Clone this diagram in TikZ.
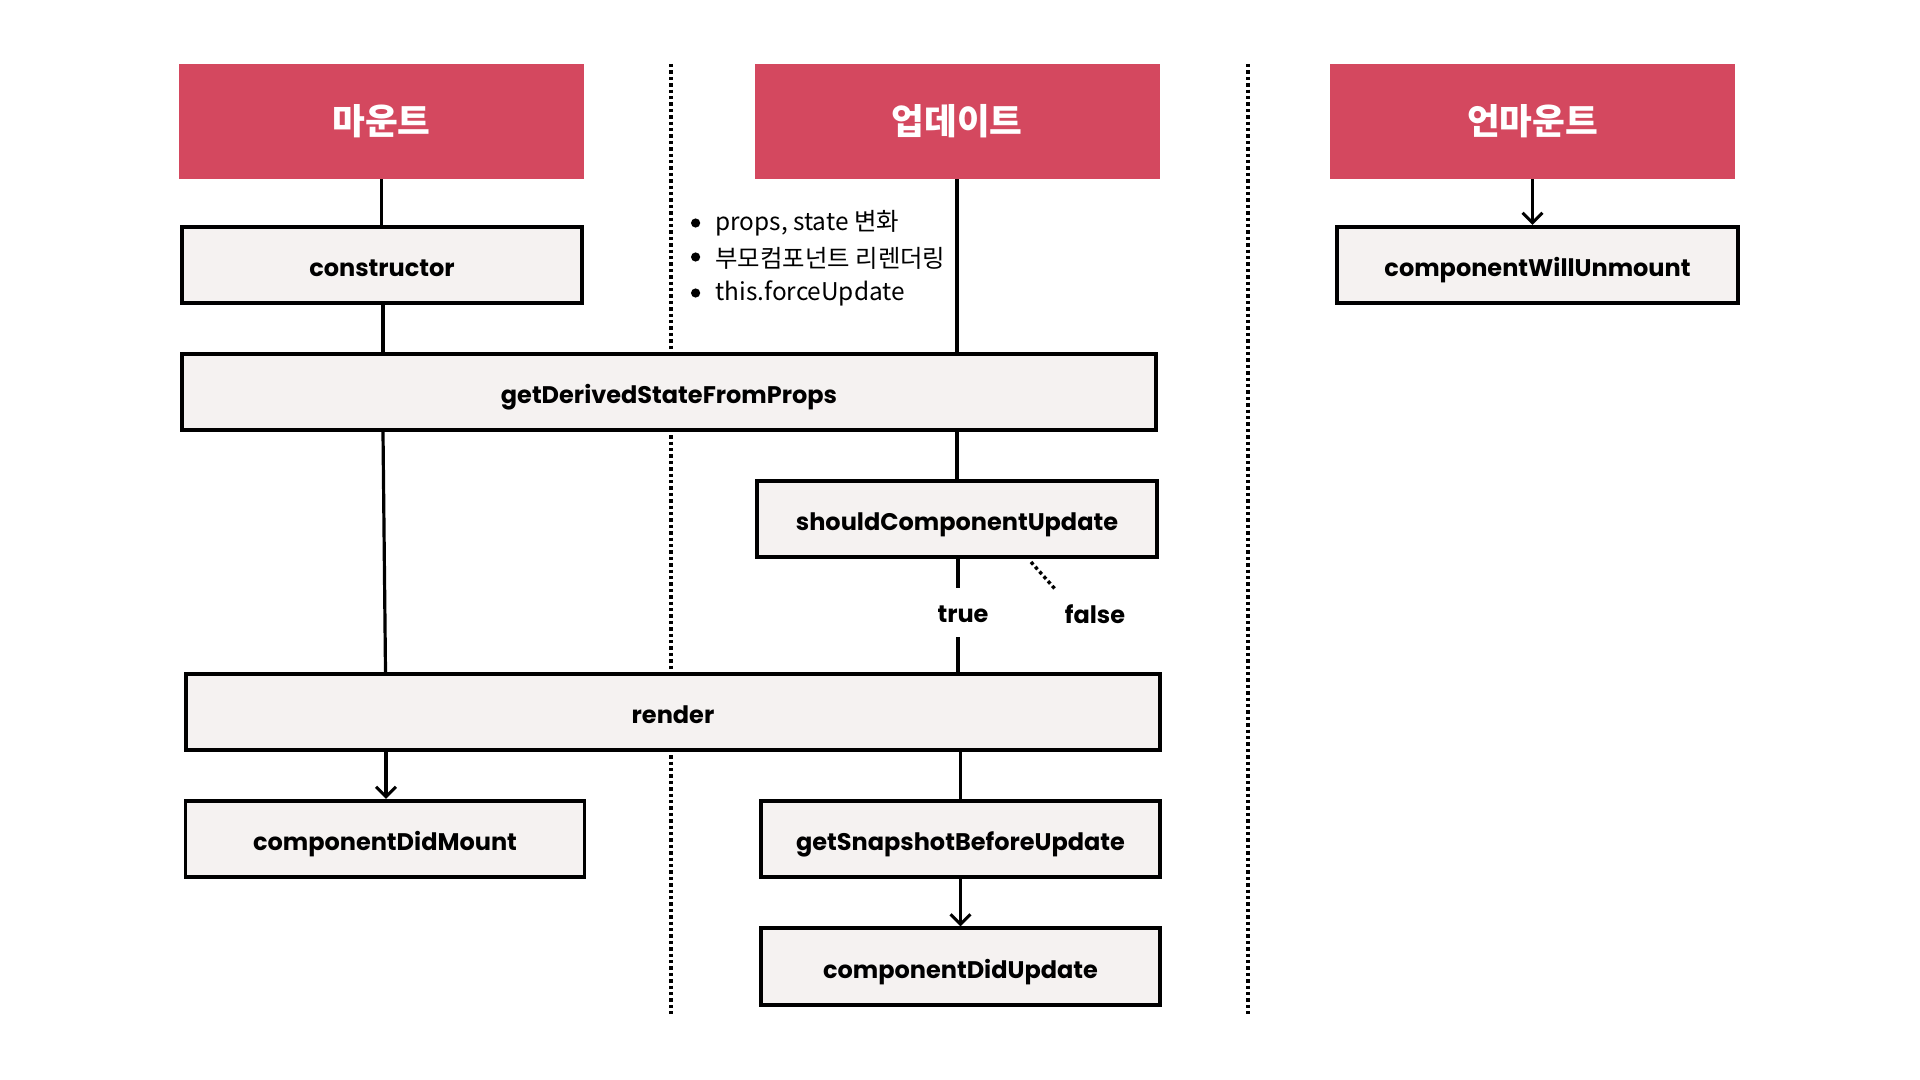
\documentclass[tikz,border=0pt]{standalone}
\usepackage{fontspec}
\setmainfont{Poppins}
\newfontfamily\kr{Noto Sans CJK KR}
\usetikzlibrary{arrows.meta}
\definecolor{hdr}{HTML}{D4485F}
\definecolor{boxfill}{HTML}{F5F2F1}
\tikzset{
  hdrbox/.style={fill=hdr, draw=none, minimum width=202.5pt, minimum height=57.5pt, text=white, font=\kr\bfseries\fontsize{17.8}{19}\selectfont, inner sep=0pt},
  lcbox/.style={fill=boxfill, draw=black, line width=1.9pt, minimum height=38.2pt, inner sep=0pt, text height=11.5pt, text depth=0pt, font=\bfseries\fontsize{12}{14}\selectfont},
  conn/.style={line width=1.6pt, draw=black},
  arr/.style={conn, -{Straight Barb[length=5pt,width=10pt,line width=1.5pt]}},
  sep/.style={line width=1.7pt, dash pattern=on 1.7pt off 1.5pt},
  lbl/.style={font=\bfseries\fontsize{12}{14}\selectfont, inner sep=0pt},
  bul/.style={font=\kr\fontsize{12.2}{14}\selectfont, anchor=west, inner sep=0pt},
  dot/.style={circle, fill=black, minimum size=4.6pt, inner sep=0pt}
}
\begin{document}
\begin{tikzpicture}[x=1pt,y=-1pt]
\useasboundingbox[fill=white] (0,0) rectangle (960,540);
% separators
\coordinate (s1a) at (335.5,32); \coordinate (s1b) at (335.5,507);
\coordinate (s2a) at (624,32); \coordinate (s2b) at (624,507);
\draw[sep] (s1a) -- (s1b);
\draw[sep] (s2a) -- (s2b);
% headers
\node[hdrbox] (hMount) at (190.75,60.75) {마운트};
\node[hdrbox] (hUpdate) at (478.5,60.75) {업데이트};
\node[hdrbox] (hUnmount) at (766.25,60.75) {언마운트};
% boxes
\node[lcbox, minimum width=200.3pt] (ctor) at (191,132.5) {constructor};
\node[lcbox, minimum width=487.3pt] (gdsfp) at (334.5,196) {getDerivedStateFromProps};
\node[lcbox, minimum width=200.3pt] (scu) at (478.5,259.5) {shouldComponentUpdate};
\node[lcbox, minimum width=487.3pt] (render) at (336.5,356) {render};
\node[lcbox, minimum width=199.5pt] (cdm) at (192.5,419.5) {componentDidMount};
\node[lcbox, minimum width=199.5pt] (gsbu) at (480.25,419.5) {getSnapshotBeforeUpdate};
\node[lcbox, minimum width=199.5pt] (cdu) at (480.25,483.25) {componentDidUpdate};
\node[lcbox, minimum width=200.3pt] (cwu) at (768.75,132.5) {componentWillUnmount};
% bullets
\node[dot] (d1) at (347.8,111.5) {};
\node[dot] (d2) at (347.8,128.5) {};
\node[dot] (d3) at (347.8,146.5) {};
\node[bul] (b1) at (357.5,111.5) {props, state 변화};
\node[bul] (b2) at (357.5,129) {부모컴포넌트 리렌더링};
\node[bul] (b3) at (357.5,146.5) {this.forceUpdate};
% mount connectors
\draw[conn] (hMount.south) -- (hMount.south |- ctor.north);
\draw[conn] ([xshift=0.75pt]hMount.south |- ctor.south) -- ([xshift=0.75pt]hMount.south |- gdsfp.north);
\draw[conn] ([xshift=0.75pt]hMount.south |- gdsfp.south) -- ([xshift=0.25pt]cdm.north |- render.north);
\draw[arr] ([xshift=0.5pt]cdm.north |- render.south) -- ([xshift=0.5pt]cdm.north);
% update connectors
\draw[conn] (hUpdate.south) -- (hUpdate.south |- gdsfp.north);
\draw[conn] (hUpdate.south |- gdsfp.south) -- (hUpdate.south |- scu.north);
\coordinate (t1) at (479,294);
\coordinate (t2) at (479,318.5);
\node[lbl] (true) at (481.5,307) {true};
\node[lbl] (false) at (547.5,307) {false};
\coordinate (f1) at (515.5,281);
\coordinate (f2) at (527.5,294.5);
\draw[conn] (scu.south -| t1) -- (t1);
\draw[conn] (t2) -- (t2 |- render.north);
\draw[line width=1.7pt, dash pattern=on 1.7pt off 1.5pt] (f1) -- (f2);
\draw[conn] (gsbu.north |- render.south) -- (gsbu.north);
\draw[arr] (gsbu.south) -- (cdu.north);
% unmount
\draw[arr] (hUnmount.south) -- (hUnmount.south |- cwu.north);
\end{tikzpicture}
\end{document}
